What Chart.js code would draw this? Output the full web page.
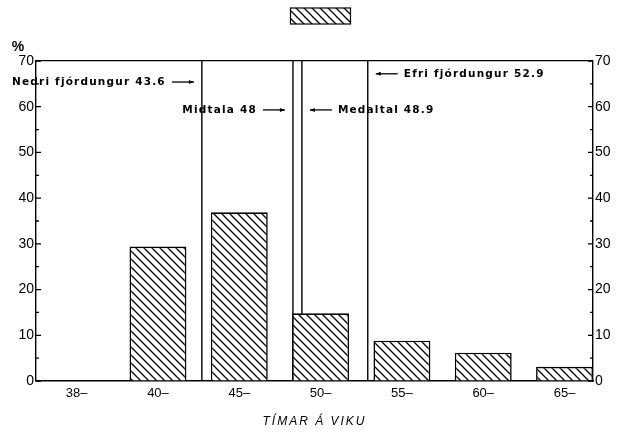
<!DOCTYPE html>
<html>
<head>
<meta charset="utf-8">
<script src="https://cdn.jsdelivr.net/npm/chart.js@4.4.1/dist/chart.umd.min.js"></script>
<style>
  html, body { margin: 0; padding: 0; background: #fff; }
  #wrap { width: 621px; height: 432px; }
</style>
</head>
<body>
<div id="wrap"><canvas id="chart"></canvas></div>
<script>
// ===== DATA =====
const categories = ['38–', '40–', '45–', '50–', '55–', '60–', '65–'];
const percents = [0, 29.4, 36.9, 14.8, 8.8, 6.2, 3.1];
const yTicks = [0, 10, 20, 30, 40, 50, 60, 70];
const markerNames = ['Nedri fjórdungur', 'Midtala', 'Medaltal', 'Efri fjórdungur'];
const markerValues = ['43.6', '48', '48.9', '52.9'];
// where each line sits on the category axis
const markerAxisPos = [1.54, 2.66, 2.77, 3.58];
const xTitle = 'TÍMAR Á VIKU';

// label layout for the marker texts (side of line, height in %)
const markerSide = ['left', 'left', 'right', 'right'];
const markerLevel = [65.4, 59.3, 59.3, 67.2];

const FONT = '"Liberation Sans", Arial, sans-serif';

function makeHatch() {
  const s = 8;
  const p = document.createElement('canvas');
  p.width = s; p.height = s;
  const g = p.getContext('2d');
  g.fillStyle = '#fff';
  g.fillRect(0, 0, s, s);
  g.strokeStyle = '#000';
  g.lineWidth = 1.3;
  g.beginPath();
  g.moveTo(-1, -1); g.lineTo(s + 1, s + 1);
  g.moveTo(s - 2, -2); g.lineTo(s + 2, 2);
  g.moveTo(-2, s - 2); g.lineTo(2, s + 2);
  g.stroke();
  return g.createPattern(p, 'repeat');
}

const ctx = document.getElementById('chart').getContext('2d');
const hatch = makeHatch();

// inward ticks, marker texts, legend swatch, % sign, axis title
const extras = {
  id: 'extras',
  afterDraw(chart) {
    const { ctx, chartArea: a, scales } = chart;
    const y = scales.y;
    ctx.save();
    ctx.strokeStyle = '#000';
    ctx.lineWidth = 1.3;
    ctx.beginPath();
    for (let v = 0; v <= 70; v += 5) {
      const py = y.getPixelForValue(v);
      const len = v % 10 === 0 ? 5 : 3;
      ctx.moveTo(a.left, py); ctx.lineTo(a.left + len, py);
      ctx.moveTo(a.right, py); ctx.lineTo(a.right - len, py);
    }
    ctx.stroke();

    // marker labels with arrows
    ctx.fillStyle = '#000';
    ctx.font = 'bold 10.5px "DejaVu Sans", sans-serif';
    ctx.letterSpacing = '1.2px';
    ctx.textBaseline = 'middle';
    markerNames.forEach((name, i) => {
      const lx = scales.x.getPixelForValue(markerAxisPos[i]);
      const ly = y.getPixelForValue(markerLevel[i]);
      const text = name + ' ' + markerValues[i];
      const gap = 8, arrow = 22, tgap = 6;
      ctx.beginPath();
      if (markerSide[i] === 'left') {
        const tip = lx - gap;
        ctx.moveTo(tip - arrow, ly); ctx.lineTo(tip, ly);
        ctx.stroke();
        ctx.beginPath();
        ctx.moveTo(tip, ly); ctx.lineTo(tip - 5, ly - 2); ctx.lineTo(tip - 5, ly + 2);
        ctx.fill();
        ctx.textAlign = 'right';
        ctx.fillText(text, tip - arrow - tgap, ly);
      } else {
        const tip = lx + gap;
        ctx.moveTo(tip, ly); ctx.lineTo(tip + arrow, ly);
        ctx.stroke();
        ctx.beginPath();
        ctx.moveTo(tip, ly); ctx.lineTo(tip + 5, ly - 2); ctx.lineTo(tip + 5, ly + 2);
        ctx.fill();
        ctx.textAlign = 'left';
        ctx.fillText(text, tip + arrow + tgap, ly);
      }
    });

    // x axis title
    ctx.font = 'italic 12px ' + FONT;
    ctx.letterSpacing = '2px';
    ctx.textAlign = 'center';
    ctx.fillText(xTitle, (a.left + a.right) / 2, 422);

    // % above the left axis
    ctx.letterSpacing = '0px';
    ctx.font = 'bold 14px ' + FONT;
    ctx.fillText('%', 18, 47);

    // legend swatch
    const w = 60, h = 16;
    const sx = (chart.width - w) / 2 + 10;
    ctx.fillStyle = chart.data.datasets[0].backgroundColor;
    ctx.fillRect(sx, 8, w, h);
    ctx.lineWidth = 1.2;
    ctx.strokeRect(sx, 8, w, h);
    ctx.restore();
  }
};

const markerSets = markerAxisPos.map(pos => ({
  type: 'line',
  data: [{ x: pos, y: 0 }, { x: pos, y: 70 }],
  borderColor: '#000',
  borderWidth: 1.4,
  pointRadius: 0,
  fill: false
}));

new Chart(ctx, {
  type: 'bar',
  data: {
    datasets: [{
      label: '',
      data: categories.map((c, i) => ({ x: i, y: percents[i] })),
      backgroundColor: hatch,
      borderColor: '#000',
      borderWidth: 1.6,
      borderSkipped: 'start',
      barPercentage: 0.7,
      categoryPercentage: 1
    }, ...markerSets]
  },
  options: {
    responsive: true,
    maintainAspectRatio: false,
    animation: false,
    layout: { padding: { top: 61, left: 0, right: 0, bottom: 0 } },
    plugins: { legend: { display: false }, tooltip: { enabled: false } },
    scales: {
      x: {
        type: 'linear',
        min: -0.5,
        max: 6.35,
        offset: false,
        afterFit: s => { s.height = 51; },
        afterBuildTicks: s => { s.ticks = categories.map((c, i) => ({ value: i })); },
        ticks: {
          autoSkip: false,
          maxRotation: 0,
          padding: 5,
          color: '#000',
          font: { family: FONT, size: 13 },
          callback: v => categories[v] ?? ''
        },
        grid: { display: false, drawTicks: false },
        border: { display: true, color: '#000', width: 1.5 }
      },
      y: {
        position: 'left',
        min: 0,
        max: 70,
        afterFit: s => { s.width = 36; },
        afterBuildTicks: s => { s.ticks = yTicks.map(v => ({ value: v })); },
        ticks: { padding: 2, color: '#000', font: { family: FONT, size: 14 } },
        grid: {
          drawTicks: false,
          lineWidth: 1.2,
          color: c => (c.tick && c.tick.value === 70 ? '#000' : 'rgba(0,0,0,0)')
        },
        border: { display: true, color: '#000', width: 1.4 }
      },
      y2: {
        position: 'right',
        min: 0,
        max: 70,
        afterFit: s => { s.width = 28; },
        afterBuildTicks: s => { s.ticks = yTicks.map(v => ({ value: v })); },
        ticks: { padding: 2, color: '#000', font: { family: FONT, size: 14 } },
        grid: { display: false, drawTicks: false },
        border: { display: true, color: '#000', width: 1.4 }
      }
    }
  },
  plugins: [extras]
});
</script>
</body>
</html>
